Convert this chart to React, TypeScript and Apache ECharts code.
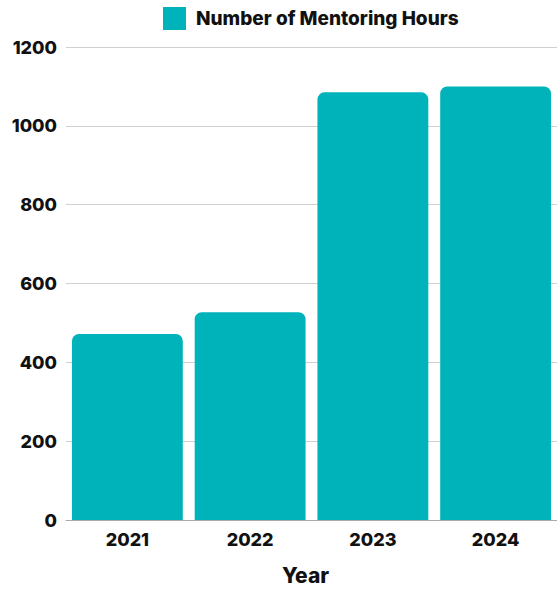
import React, { useEffect, useRef } from "react";
import * as echarts from "echarts";

const categories = ["2021", "2022", "2023", "2024"];
const hours = [472, 527, 1085, 1100];
const yTicks = [0, 200, 400, 600, 800, 1000, 1200];

export default function App() {
  const ref = useRef<HTMLDivElement>(null);
  useEffect(() => {
    if (!ref.current) return;
    const chart = echarts.init(ref.current, null, { renderer: "svg" });
    chart.setOption({
      animation: false,
      textStyle: { fontFamily: "Inter" },
      legend: {
        data: ["Number of Mentoring Hours"],
        top: 7,
        left: 163,
        padding: 0,
        itemWidth: 23,
        itemHeight: 23,
        itemGap: 10,
        icon: "rect",
        textStyle: { fontFamily: "Inter", fontWeight: 800, fontSize: 19, color: "#111", padding: [0, 0, 0, 5] },
      },
      grid: { left: 66, width: 494, top: 47, height: 483, containLabel: false },
      xAxis: {
        type: "category",
        data: categories,
        name: "Year",
        nameLocation: "middle",
        nameGap: 45,
        nameTextStyle: { fontFamily: "Inter", fontWeight: 800, fontSize: 21, color: "#111", padding: [0, 12, 0, 0] },
        axisLine: { lineStyle: { color: "#aaa" } },
        axisTick: { show: false },
        axisLabel: { fontFamily: "Inter", fontWeight: 800, fontSize: 18, color: "#111", margin: 10 },
      },
      yAxis: {
        type: "value",
        min: yTicks[0],
        max: yTicks[yTicks.length - 1],
        interval: 200,
        axisLine: { show: false },
        axisTick: { show: false },
        splitLine: { lineStyle: { color: "#d0d0d0" } },
        axisLabel: {
          fontFamily: "Inter",
          fontWeight: 800,
          fontSize: 18,
          color: "#111",
          margin: 9,
          formatter: (v: number) => String(v),
        },
      },
      series: [
        {
          name: "Number of Mentoring Hours",
          type: "bar",
          data: hours,
          barCategoryGap: "9.7%",
          itemStyle: { color: "#00B2BA", borderRadius: [7, 7, 0, 0] },
        },
      ],
    });
    return () => chart.dispose();
  }, []);
  return <div ref={ref} style={{ width: 557, height: 591, position: "absolute", left: 0, top: 0, overflow: "hidden" }} />;
}
